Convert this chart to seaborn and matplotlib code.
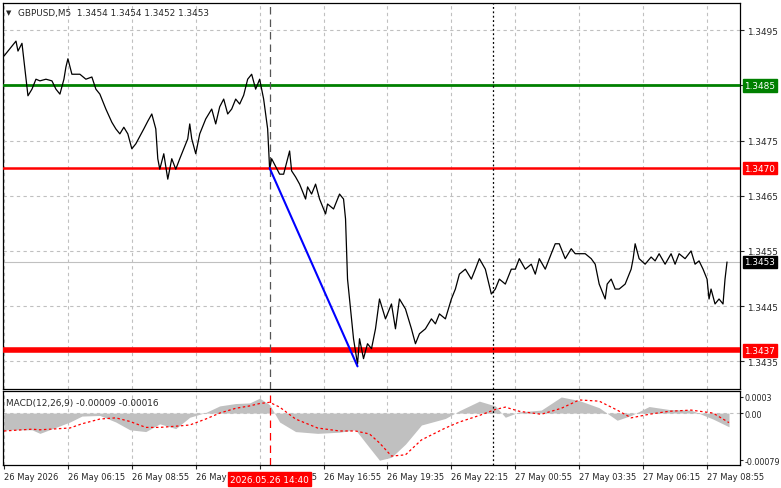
import numpy as np
import pandas as pd
import matplotlib
matplotlib.use("Agg")
import matplotlib.pyplot as plt
import seaborn as sns

# --- DATA ---
BARS = [0, 4, 6, 7, 9, 12, 14, 16, 18, 21,
        24, 26, 28, 30, 31, 32, 34, 38, 41, 44,
        46, 48, 51, 54, 56, 58, 60, 62, 64, 66,
        70, 72, 74, 76, 77, 78, 80, 82, 84, 86,
        88, 90, 92, 93, 94, 96, 98, 101, 104, 106,
        108, 110, 112, 114, 116, 118, 120, 122, 124, 126,
        128, 130, 132, 133, 134, 138, 140, 142, 143, 144,
        146, 148, 151, 152, 154, 156, 158, 161, 162, 165,
        168, 170, 171, 172, 174, 175, 177, 178, 180, 182,
        184, 186, 188, 191, 194, 196, 198, 201, 204, 206,
        208, 211, 214, 216, 218, 221, 224, 226, 228, 231,
        234, 236, 238, 241, 244, 246, 248, 251, 254, 256,
        258, 261, 264, 266, 268, 271, 274, 276, 278, 281,
        284, 286, 288, 291, 294, 296, 298, 301, 302, 304,
        306, 308, 311, 314, 315, 316, 318, 321, 324, 326,
        328, 331, 334, 336, 338, 341, 344, 346, 348, 350,
        352, 353, 354, 356, 358, 360, 361, 362]
PRICE = [1.34903, 1.34921, 1.34930, 1.34912, 1.34926, 1.34831, 1.34843, 1.34861, 1.34858, 1.34861,
         1.34858, 1.34843, 1.34834, 1.34861, 1.34883, 1.34898, 1.34870, 1.34870, 1.34861, 1.34865,
         1.34843, 1.34834, 1.34807, 1.34783, 1.34771, 1.34762, 1.34774, 1.34762, 1.34735, 1.34744,
         1.34771, 1.34785, 1.34798, 1.34771, 1.34717, 1.34698, 1.34726, 1.34680, 1.34717, 1.34698,
         1.34717, 1.34735, 1.34753, 1.34780, 1.34753, 1.34726, 1.34762, 1.34789, 1.34807, 1.34780,
         1.34811, 1.34825, 1.34798, 1.34807, 1.34825, 1.34816, 1.34832, 1.34861, 1.34870, 1.34843,
         1.34861, 1.34825, 1.34771, 1.34698, 1.34717, 1.34689, 1.34689, 1.34717, 1.34731, 1.34695,
         1.34684, 1.34671, 1.34644, 1.34666, 1.34653, 1.34671, 1.34644, 1.34617, 1.34635, 1.34626,
         1.34653, 1.34644, 1.34608, 1.34499, 1.34427, 1.34391, 1.34345, 1.34391, 1.34355, 1.34382,
         1.34373, 1.34409, 1.34463, 1.34427, 1.34454, 1.34409, 1.34463, 1.34445, 1.34409, 1.34382,
         1.34400, 1.34409, 1.34427, 1.34418, 1.34436, 1.34427, 1.34463, 1.34481, 1.34508, 1.34517,
         1.34499, 1.34517, 1.34536, 1.34517, 1.34472, 1.34481, 1.34499, 1.34490, 1.34517, 1.34517,
         1.34536, 1.34517, 1.34526, 1.34508, 1.34536, 1.34517, 1.34545, 1.34563, 1.34563, 1.34536,
         1.34554, 1.34545, 1.34545, 1.34545, 1.34536, 1.34526, 1.34490, 1.34463, 1.34490, 1.34499,
         1.34481, 1.34481, 1.34490, 1.34517, 1.34536, 1.34563, 1.34536, 1.34526, 1.34539, 1.34532,
         1.34545, 1.34526, 1.34545, 1.34526, 1.34545, 1.34536, 1.34550, 1.34526, 1.34532, 1.34517,
         1.34499, 1.34463, 1.34481, 1.34454, 1.34463, 1.34454, 1.34499, 1.34530]

MACD_BARS = [0, 14, 18, 33, 39, 48, 56, 63, 71, 78,
             86, 93, 101, 108, 116, 123, 128, 133, 138, 146,
             157, 168, 176, 183, 188, 194, 201, 209, 221, 228,
             238, 246, 251, 258, 269, 279, 288, 298, 307, 314,
             323, 333, 344, 355, 363]
MACD_HIST = [-28, -28, -34, -15, -5, -4, -15, -28, -31, -18,
             -26, -7, 1, 12, 16, 17, 25, 14, -15, -31,
             -34, -32, -28, -58, -79, -74, -52, -20, -9, 4,
             20, 12, -7, 2, 5, 27, 21, 9, -12, -4,
             11, 6, 5, -10, -23]
MACD_SIGNAL = [-30, -27, -28, -25, -18, -10, -8, -14, -24, -24,
               -22, -20, -10, 0, 8, 12, 16, 18, 10, -10,
               -25, -30, -30, -35, -50, -72, -70, -45, -25, -15,
               -4, 6, 10, 3, -2, 8, 22, 20, 5, -8,
               -2, 3, 5, 0, -16]

TICK_BARS = [0, 32, 64, 96, 128, 160, 192, 224, 256, 288, 320, 352]
TICK_LABELS = ["26 May 2026", "26 May 06:15", "26 May 08:55", "26 May 11:35",
               "26 May 14:15", "26 May 16:55", "26 May 19:35", "26 May 22:15",
               "27 May 00:55", "27 May 03:35", "27 May 06:15", "27 May 08:55"]
PRICE_TICKS = [1.3435, 1.3445, 1.3455, 1.3465, 1.3475, 1.3485, 1.3495]

LEVEL_GREEN = 1.3485
LEVEL_RED = 1.3470
LEVEL_RED_LOW = 1.3437
LAST_PRICE = 1.3453
ENTRY_BAR, ENTRY_PRICE = 133, 1.3470
TARGET_BAR, TARGET_PRICE = 177, 1.34341
DOTTED_BAR = 245

sns.set_style("white")
plt.rcParams["font.family"] = ["DejaVu Sans"]
FS = 6.4
GRID = dict(color="#c0c0c0", linestyle=(0, (3, 3)), linewidth=0.8)

fig = plt.figure(figsize=(7.81, 4.89), dpi=100)
W, H = 781, 489
ax = fig.add_axes([3 / W, 1 - 390 / H, 737 / W, 386 / H])
ax2 = fig.add_axes([3 / W, 1 - 466 / H, 737 / W, 74 / H])
XMAX = 368.5

# --- main price panel ---
df = pd.DataFrame({"bar": BARS, "price": PRICE})
sns.lineplot(data=df, x="bar", y="price", ax=ax, color="black", linewidth=0.9, zorder=4)
ax.set_xlim(-0.5, XMAX)
ax.set_ylim(1.34300, 1.34999)
ax.set_xticks(TICK_BARS)
ax.set_xticklabels([])
ax.set_yticks(PRICE_TICKS)
ax.yaxis.tick_right()
ax.tick_params(axis="y", labelsize=FS, length=3, pad=2, direction="out", right=True)
ax.tick_params(axis="x", length=0)
# the green tag covers the 1.3485 label in the reference
ax.set_yticklabels(["" if abs(t - LEVEL_GREEN) < 1e-6 else f"{t:.4f}" for t in PRICE_TICKS])
ax.grid(True, **GRID)
ax.set_xlabel("")
ax.set_ylabel("")

ax.axhline(LEVEL_GREEN, color="#008000", linewidth=2, zorder=3)
ax.axhline(LEVEL_RED, color="red", linewidth=1.8, zorder=3)
ax.axhline(LEVEL_RED_LOW, color="red", linewidth=4, zorder=3)
ax.axhline(LAST_PRICE, color="#c0c0c0", linewidth=0.8, zorder=2)
ax.plot([ENTRY_BAR, TARGET_BAR], [ENTRY_PRICE, TARGET_PRICE], color="blue", linewidth=1.5, zorder=5)
ax.axvline(ENTRY_BAR, color="#555555", linestyle=(0, (6, 4)), linewidth=0.9, zorder=3)
ax.axvline(DOTTED_BAR, color="black", linestyle=(0, (1.5, 2)), linewidth=0.9, zorder=3)

for val, bg, fg in [(LEVEL_GREEN, "#008000", "white"), (LEVEL_RED, "red", "white"),
                    (LEVEL_RED_LOW, "red", "white"), (LAST_PRICE, "black", "white")]:
    ax.text(1.006, val, f"{val:.4f}", transform=ax.get_yaxis_transform(), fontsize=FS,
            color=fg, va="center", ha="left", zorder=6,
            bbox=dict(boxstyle="square,pad=0.2", fc=bg, ec=bg))

ax.text(0.004, 0.985, "\u25bc", transform=ax.transAxes, fontsize=5, va="top", ha="left")
ax.text(0.02, 0.988, "GBPUSD,M5  1.3454 1.3454 1.3452 1.3453", transform=ax.transAxes,
        fontsize=FS, va="top", ha="left")

# --- MACD panel ---
mbars = np.array(MACD_BARS)
hist = np.array(MACD_HIST) * 1e-5
sig = np.array(MACD_SIGNAL) * 1e-5
ax2.fill_between(mbars, 0, hist, color="#c0c0c0", linewidth=0, zorder=2)
sns.lineplot(x=mbars, y=sig, ax=ax2, color="red", linestyle=(0, (2, 2)), linewidth=0.9, zorder=3)
ax2.set_xlim(-0.5, XMAX)
ax2.set_ylim(-0.00087, 0.00037)
ax2.set_yticks([0.00027, 0.0, -0.00079])
ax2.yaxis.tick_right()
ax2.set_yticklabels(["0.0003", "0.00", "-0.00079"])
ax2.tick_params(axis="y", labelsize=5.8, length=2, pad=1, right=True)
ax2.set_xticks(TICK_BARS)
ax2.set_xticklabels(TICK_LABELS, fontsize=6.0, ha="left")
ax2.tick_params(axis="x", length=3, pad=2, bottom=True, direction="out")
ax2.grid(True, axis="x", **GRID)
ax2.axhline(0, color="#c0c0c0", linestyle=(0, (3, 3)), linewidth=0.8)
ax2.axvline(ENTRY_BAR, color="red", linestyle=(0, (6, 4)), linewidth=0.9)
ax2.axvline(DOTTED_BAR, color="black", linestyle=(0, (1.5, 2)), linewidth=0.9)
ax2.text(0.004, 0.9, "MACD(12,26,9) -0.00009 -0.00016", transform=ax2.transAxes,
         fontsize=FS, va="top", ha="left")
ax2.set_xlabel("")
ax2.set_ylabel("")

# red time marker drawn over the axis labels, as in the terminal
ax2.text(ENTRY_BAR, -0.19, "2026.05.26 14:40", transform=ax2.get_xaxis_transform(),
         fontsize=FS, color="white", ha="center", va="center", zorder=10, clip_on=False,
         bbox=dict(boxstyle="square,pad=0.25", fc="red", ec="red"))

for a in (ax, ax2):
    for s in a.spines.values():
        s.set_color("black")
        s.set_linewidth(0.9)

fig.savefig("out.png", dpi=100, facecolor="white")
